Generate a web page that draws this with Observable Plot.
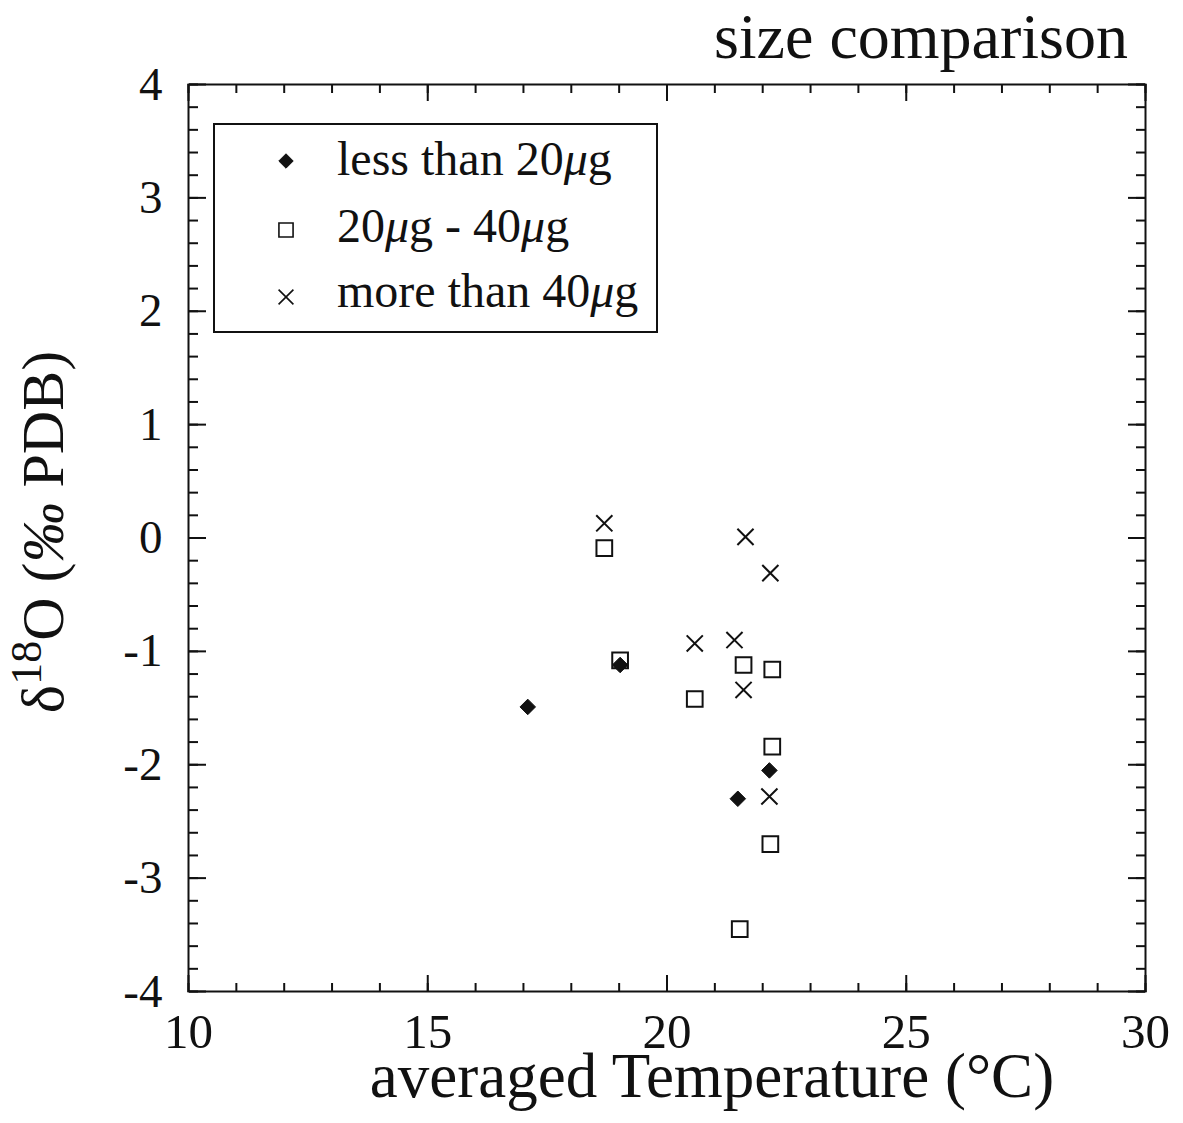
<!DOCTYPE html>
<html>
<head>
<meta charset="utf-8">
<script src="https://cdn.jsdelivr.net/npm/d3@7"></script>
<script src="https://cdn.jsdelivr.net/npm/@observablehq/plot@0.6"></script>
<style>
  body { margin: 0; background: #fff; }
  #wrap { position: relative; width: 1183px; height: 1123px; overflow: hidden;
          font-family: "Liberation Serif", "Times New Roman", serif; color: #111; }
  #chart { position: absolute; left: 0; top: 0; }
  #title { position: absolute; right: 55px; top: 5px; font-size: 64px; line-height: 64px; white-space: nowrap; }
  #legend { position: absolute; left: 213px; top: 123px; width: 441px; height: 206px;
            border: 2px solid #111; background: #fff; }
  .row { position: absolute; left: 0; width: 441px; height: 48px; }
  .row svg { position: absolute; left: 56px; }
  .row .lbl { position: absolute; left: 122px; top: 0; font-size: 48px; line-height: 48px; white-space: nowrap; }
  .mu { font-style: italic; }
</style>
</head>
<body>
<div id="wrap">
  <div id="chart"></div>
  <div id="title">size comparison</div>
  <div id="legend"></div>
</div>
<script>
// ---- data ----
const seriesNames = ["less than 20μg", "20μg - 40μg", "more than 40μg"];

const lessTemp = [17.09, 19.02, 21.48, 22.14];
const lessD18O = [-1.49, -1.12, -2.30, -2.05];

const midTemp = [18.69, 19.02, 20.58, 21.60, 22.20, 22.20, 22.16, 21.52];
const midD18O = [-0.09, -1.08, -1.42, -1.12, -1.16, -1.84, -2.70, -3.45];

const moreTemp = [18.69, 21.64, 22.16, 20.58, 21.41, 21.60, 22.14];
const moreD18O = [0.13, 0.01, -0.31, -0.93, -0.90, -1.34, -2.28];

const xTickLabels = [10, 15, 20, 25, 30];
const yTickLabels = [4, 3, 2, 1, 0, -1, -2, -3, -4];
const xDomain = [10, 30];
const yDomain = [-4, 4];

// ---- derived tables ----
const lessData = lessTemp.map((t, i) => ({t, d: lessD18O[i]}));
const midData = midTemp.map((t, i) => ({t, d: midD18O[i]}));
const moreData = moreTemp.map((t, i) => ({t, d: moreD18O[i]}));
const xMinor = d3.range(xDomain[0], xDomain[1] + 0.001, 1);
const yMinor = d3.range(0, 41).map(i => +(yDomain[0] + i * 0.2).toFixed(1));

const ink = "#111";
const W = 1183, H = 1123;

const tickAxes = (ticks, size) => [
  Plot.axisX(ticks, {anchor: "top", frameAnchor: "bottom", tickSize: size, fill: "none", stroke: ink, strokeWidth: 2, label: null}),
  Plot.axisX(ticks, {anchor: "bottom", frameAnchor: "top", tickSize: size, fill: "none", stroke: ink, strokeWidth: 2, label: null})
];
const tickAxesY = (ticks, size) => [
  Plot.axisY(ticks, {anchor: "right", frameAnchor: "left", tickSize: size, fill: "none", stroke: ink, strokeWidth: 2, label: null}),
  Plot.axisY(ticks, {anchor: "left", frameAnchor: "right", tickSize: size, fill: "none", stroke: ink, strokeWidth: 2, label: null})
];

const svg = Plot.plot({
  width: W,
  height: H,
  marginTop: 84,
  marginBottom: 132,
  marginLeft: 188,
  marginRight: 38,
  style: {fontFamily: '"Liberation Serif", "Times New Roman", serif', color: ink, background: "#fff"},
  x: {domain: xDomain},
  y: {domain: yDomain},
  marks: [
    ...tickAxes(xMinor, 9),
    ...tickAxes(xTickLabels, 17),
    ...tickAxesY(yMinor, 9),
    ...tickAxesY(yTickLabels, 17),
    Plot.axisX(xTickLabels, {anchor: "bottom", tickSize: 0, tickPadding: 22, fontSize: 49, tickFormat: d => String(d), label: null, fill: ink}),
    Plot.axisY(yTickLabels, {anchor: "left", tickSize: 0, tickPadding: 26, fontSize: 47, tickFormat: d => String(d), label: null, fill: ink}),
    Plot.frame({stroke: ink, strokeWidth: 2}),
    Plot.dot(lessData, {x: "t", y: "d", symbol: "diamond2", r: 7, fill: ink, stroke: ink, strokeWidth: 1}),
    Plot.dot(midData, {x: "t", y: "d", symbol: "square2", r: 10, fill: "none", stroke: ink, strokeWidth: 2}),
    Plot.dot(moreData, {x: "t", y: "d", symbol: "times", r: 7.4, fill: "none", stroke: ink, strokeWidth: 2})
  ]
});

// axis titles (with superscript) as real SVG text
const s = d3.select(svg);
const yl = s.append("text")
  .attr("transform", "translate(63,532) rotate(-90)")
  .attr("text-anchor", "middle")
  .attr("font-size", 60)
  .attr("fill", ink);
yl.append("tspan").text("δ");
yl.append("tspan").attr("font-size", 44).attr("dy", -22).text("18");
yl.append("tspan").attr("dy", 22).text("O (");
yl.append("tspan").attr("font-style", "italic").text("‰");
yl.append("tspan").text(" PDB)");

s.append("text")
  .attr("x", 712).attr("y", 1097)
  .attr("text-anchor", "middle")
  .attr("font-size", 63)
  .attr("fill", ink)
  .text("averaged Temperature (°C)");

document.getElementById("chart").appendChild(svg);

// legend
const legend = d3.select("#legend");
const symbols = [
  {sym: d3.symbolDiamond2, size: Math.PI * 6.5 * 6.5, fill: ink, stroke: ink, sw: 1},
  {sym: d3.symbolSquare2, size: Math.PI * 9 * 9, fill: "none", stroke: ink, sw: 1.6},
  {sym: d3.symbolTimes, size: Math.PI * 6.8 * 6.8, fill: "none", stroke: ink, sw: 1.6}
];
const rowTops = [10, 77, 142];
const symCenters = [36, 105, 172];
seriesNames.forEach((name, i) => {
  const sv = legend.append("svg").attr("width", 30).attr("height", 30)
    .style("position", "absolute")
    .style("left", "56px")
    .style("top", (symCenters[i] - 15) + "px");
  sv.append("path")
    .attr("transform", "translate(15,15)")
    .attr("d", d3.symbol(symbols[i].sym, symbols[i].size)())
    .attr("fill", symbols[i].fill)
    .attr("stroke", symbols[i].stroke)
    .attr("stroke-width", symbols[i].sw);
  const lbl = legend.append("div").attr("class", "lbl")
    .style("position", "absolute").style("left", "122px")
    .style("top", rowTops[i] + "px")
    .style("font-size", "48px").style("line-height", "48px").style("white-space", "nowrap");
  const parts = name.split("μ");
  parts.forEach((p, j) => {
    lbl.append("span").text(p);
    if (j < parts.length - 1) lbl.append("span").attr("class", "mu").text("μ");
  });
});
</script>
</body>
</html>
